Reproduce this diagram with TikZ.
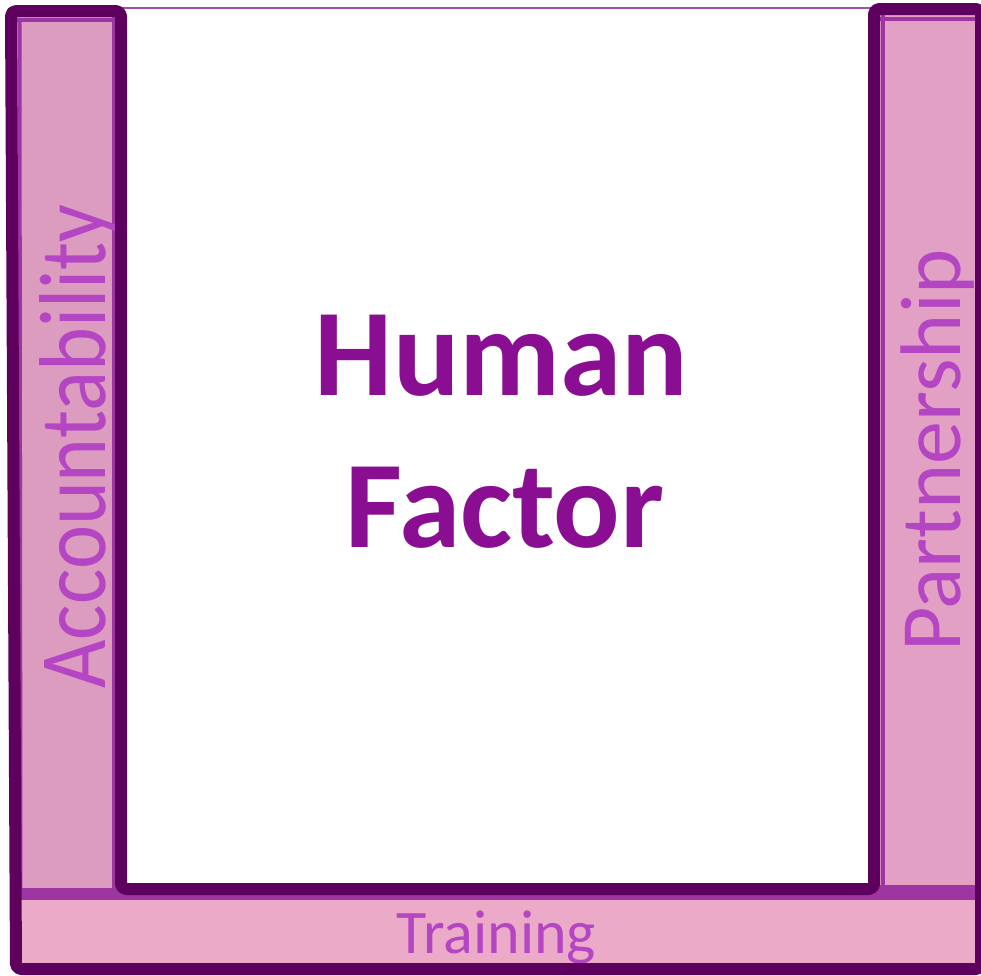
\documentclass[tikz,border=0pt]{standalone}
\usepackage{fontspec}
\setmainfont{Carlito}
\definecolor{darkp}{RGB}{94,0,94}
\definecolor{lightp}{RGB}{157,54,160}
\definecolor{pinkL}{RGB}{219,156,192}
\definecolor{pinkR}{RGB}{226,160,196}
\definecolor{pinkB}{RGB}{234,170,200}
\definecolor{sidetext}{RGB}{180,70,195}
\definecolor{maintext}{RGB}{138,14,145}
\definecolor{topline}{RGB}{160,80,170}
\tikzset{
  outline/.style={draw=darkp, line width=12pt, rounded corners=5pt, line join=round},
  stripe/.style={draw=lightp, line width=4pt},
  sidelabel/.style={text=sidetext, inner sep=0pt, anchor=base},
  mainlabel/.style={text=maintext, inner sep=0pt, anchor=base, font=\fontsize{124}{148}\bfseries\selectfont}
}
\begin{document}
\begin{tikzpicture}[x=1pt, y=-1pt]
\useasboundingbox (0,0) rectangle (981,975);
\clip (0,0) rectangle (981,975);
% pink fills
\fill[pinkB] (11,889) rectangle (981,969);
\fill[pinkL] (11,11) -- (121,11) -- (121,889) -- (16,889) -- cycle;
\fill[pinkR] (874,9) rectangle (981,889);
% thin top line of the white box
\draw[topline, line width=1.3pt] (121,8) -- (874,8);
% light stripes
\draw[stripe] (19.5,19) -- (20.5,889);
\draw[stripe] (17,19.5) -- (115,19.5);
\draw[stripe] (113.5,17) -- (113.5,889);
\fill[lightp] (18,888) rectangle (121,900);
\fill[lightp] (121,894) rectangle (880,900);
\draw[stripe] (882.5,15) -- (882.5,889);
\draw[stripe] (880,18.5) -- (975,18.5);
\fill[lightp] (874,885) rectangle (975,900);
% side texts
\node[sidelabel, rotate=90] (acc) at (105,446.5) {\scalebox{0.88}[1]{\fontsize{95}{100}\selectfont Accountability}};
\node[sidelabel, rotate=90] (par) at (960,450.5) {\fontsize{86}{100}\selectfont Partnership};
\node[sidelabel] (tra) at (496.5,953) {\fontsize{62}{70}\selectfont Training};
% dark outline
\draw[outline] (11,11) -- (121,11) -- (121,889) -- (874,889) -- (874,9) -- (981,9) -- (981,969) -- (16,969) -- cycle;
% main text
\node[mainlabel] (hum) at (501.5,395) {Human};
\node[mainlabel] (fac) at (505,547) {Factor};
\end{tikzpicture}
\end{document}
